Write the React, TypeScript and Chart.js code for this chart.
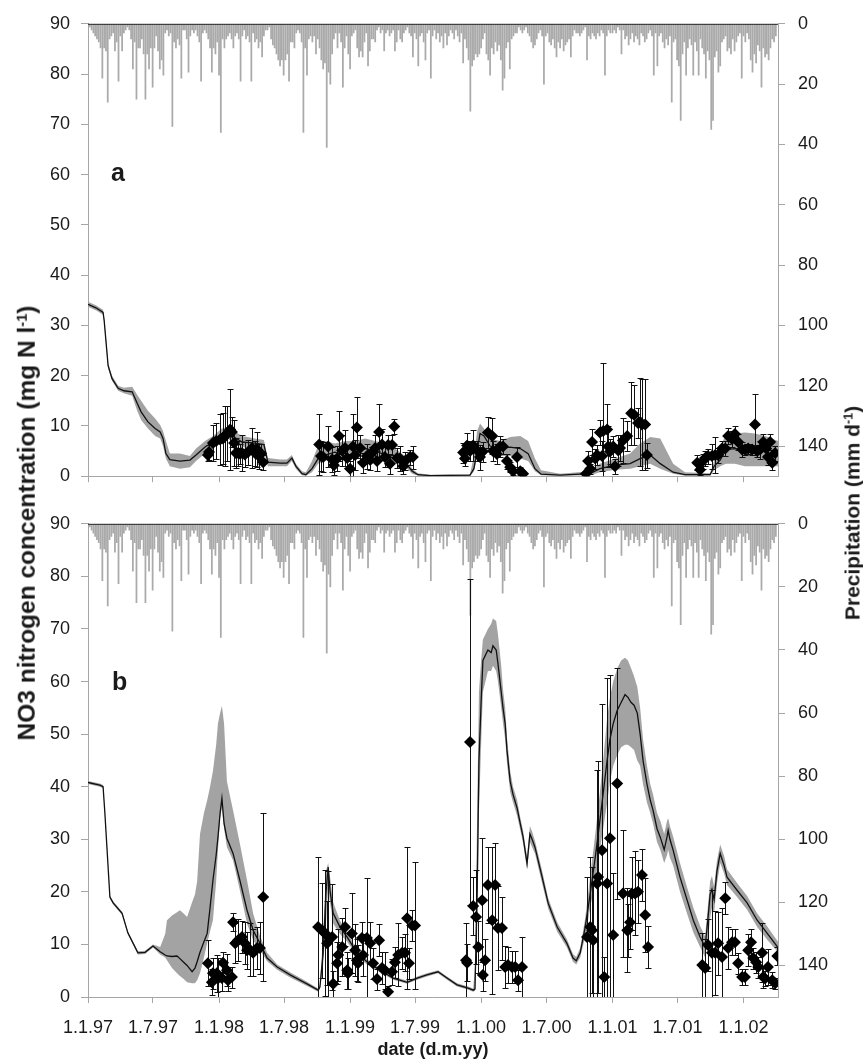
import React, { useEffect, useRef } from 'react';
import { Chart, registerables } from 'chart.js';

Chart.register(...registerables);

const FONT = '"Liberation Sans", Arial, Helvetica, sans-serif';
const AXIS_GRAY = '#a6a6a6';
const TEXT = '#1a1a1a';

// ---------- x axis (days since 1 Jan 1997) ----------
const tickLabels = ['1.1.97', '1.7.97', '1.1.98', '1.7.98', '1.1.99', '1.7.99', '1.1.00', '1.7.00', '1.1.01', '1.7.01', '1.1.02'];
const tickDays = [0, 181, 365, 546, 730, 911, 1095, 1277, 1461, 1642, 1826];
const xMaxDay = 1922;

// ---------- right axis ticks ----------
const precipTicks = [0, 20, 40, 60, 80, 100, 120, 140];

// ---------- precipitation (mm/d), 5-day values from 1 Jan of each year ----------
const precipStep = 5;
const precipYearStart = [0, 365, 730, 1095, 1461, 1826];
const precip1997 = [1, 1, 2, 3, 4, 5, 6, 8, 18, 8, 9, 26, 5, 4, 3, 9, 6, 19, 4, 9, 3, 2, 1, 2, 5, 15, 6, 25, 8, 8, 5, 10, 25, 10, 15, 8, 21, 8, 4, 9, 15, 12, 17, 3, 2, 4, 3, 34, 6, 8, 5, 7, 18, 2, 2, 5, 16, 4, 2, 3, 2, 4, 6, 19, 3, 2, 3, 5, 8, 16, 8, 10, 6];
const precip1998 = [17, 36, 5, 8, 5, 4, 3, 5, 8, 4, 3, 5, 19, 4, 2, 5, 4, 6, 19, 3, 6, 5, 8, 6, 11, 4, 2, 2, 1, 5, 7, 8, 10, 12, 14, 12, 17, 12, 10, 19, 6, 6, 8, 3, 2, 3, 6, 36, 8, 17, 5, 4, 6, 4, 10, 5, 8, 12, 15, 13, 41, 16, 20, 10, 5, 3, 8, 3, 6, 21, 8, 4, 10];
const precip1999 = [15, 4, 3, 2, 8, 11, 9, 11, 6, 3, 14, 9, 5, 5, 6, 2, 1, 3, 2, 9, 3, 2, 4, 3, 2, 9, 6, 2, 5, 6, 3, 2, 1, 3, 4, 11, 3, 5, 14, 4, 3, 6, 12, 3, 2, 18, 4, 2, 5, 3, 6, 4, 8, 3, 7, 4, 2, 3, 5, 2, 4, 6, 3, 13, 5, 8, 12, 29, 14, 12, 10, 11, 10];
const precip2000 = [8, 5, 3, 10, 12, 17, 8, 10, 6, 9, 7, 12, 22, 18, 8, 6, 15, 5, 4, 3, 3, 1, 2, 3, 2, 1, 3, 4, 6, 8, 7, 5, 3, 2, 4, 20, 4, 3, 6, 7, 5, 8, 11, 6, 8, 5, 9, 7, 6, 5, 11, 4, 2, 3, 3, 4, 3, 2, 1, 12, 4, 5, 3, 4, 5, 3, 4, 2, 3, 17, 4, 2, 3];
const precip2001 = [3, 2, 3, 1, 2, 10, 2, 5, 4, 7, 5, 3, 6, 4, 5, 7, 3, 4, 6, 5, 3, 2, 4, 17, 3, 14, 4, 3, 6, 8, 5, 7, 4, 26, 6, 5, 12, 14, 32, 10, 6, 17, 8, 5, 7, 17, 6, 9, 17, 5, 8, 10, 18, 9, 12, 35, 32, 11, 9, 16, 14, 6, 5, 4, 9, 8, 10, 5, 9, 6, 4, 3, 18];
const precip2002 = [4, 6, 3, 5, 12, 16, 10, 13, 7, 9, 21, 8, 11, 10, 12, 8, 5, 6, 4];

// ---------- panel a: model (line + uncertainty band) ----------
const lineADays = [0, 22, 42, 45, 56, 67, 84, 100, 123, 137, 148, 167, 187, 201, 209, 217, 228, 256, 284, 301, 326, 348, 373, 390, 407, 429, 465, 490, 501, 535, 554, 568, 579, 596, 607, 624, 641, 660, 688, 716, 744, 772, 800, 827, 855, 883, 903, 919, 953, 1064, 1075, 1084, 1092, 1103, 1120, 1148, 1176, 1204, 1226, 1245, 1262, 1315, 1399, 1426, 1468, 1510, 1538, 1566, 1594, 1630, 1663, 1733, 1744, 1761, 1777, 1802, 1830, 1858, 1886, 1922];
const lineA = [34.2, 33.5, 32.6, 31, 22, 19.4, 17.5, 17.0, 16.8, 14.5, 12.8, 10.8, 9.5, 8.8, 7.5, 4.5, 3.3, 3.0, 3.2, 4.2, 5.8, 6.8, 8.5, 8.8, 7.8, 6.8, 6.6, 6.3, 2.8, 2.6, 2.6, 3.6, 2.0, 0.5, 0.3, 1.5, 3.5, 4.2, 4.8, 4.0, 4.6, 5.5, 5.0, 4.3, 3.5, 2.8, 1.0, 0.3, 0.1, 0.2, 1.5, 5.0, 8.5, 8.0, 6.0, 5.5, 5.8, 5.5, 4.5, 1.5, 0.4, 0.2, 0.5, 1.5, 2.2, 2.5, 3.5, 4.2, 2.5, 0.8, 0.3, 0.3, 2.0, 3.2, 5.3, 5.5, 5.4, 5.6, 5.3, 5.0];
const bandALow = [33.7, 33.0, 32.1, 30.5, 21.5, 19.0, 17.0, 16.5, 16.0, 13.0, 11.2, 9.5, 8.0, 7.5, 6.0, 3.5, 2.0, 1.5, 1.8, 3.0, 4.5, 5.5, 7.0, 7.5, 6.5, 5.8, 5.5, 5.0, 2.0, 2.0, 2.0, 3.0, 1.5, 0.2, 0.1, 0.8, 2.5, 3.0, 3.5, 3.0, 3.5, 4.0, 3.5, 3.0, 2.5, 2.0, 0.5, 0.1, 0.0, 0.0, 1.0, 4.0, 6.0, 6.0, 4.5, 4.0, 4.0, 3.5, 3.0, 1.0, 0.2, 0.1, 0.2, 0.8, 1.3, 1.5, 2.0, 2.5, 1.5, 0.5, 0.1, 0.1, 1.2, 2.0, 2.5, 2.5, 2.0, 2.0, 2.0, 2.0];
const bandAHigh = [34.7, 34.0, 33.1, 31.5, 22.5, 20.0, 18.0, 17.6, 17.8, 16.2, 15.0, 13.0, 11.5, 10.2, 9.0, 7.0, 4.5, 4.5, 4.0, 5.5, 7.0, 8.0, 9.5, 9.8, 9.0, 8.0, 7.5, 7.2, 3.6, 3.3, 3.3, 4.2, 2.5, 1.0, 0.8, 3.0, 6.0, 7.0, 6.5, 7.0, 7.0, 7.5, 7.0, 6.5, 5.5, 4.0, 1.5, 0.6, 0.3, 0.4, 4.0, 9.0, 10.5, 9.5, 7.5, 7.0, 7.8, 8.0, 7.0, 3.5, 1.2, 0.5, 1.0, 2.5, 3.5, 4.5, 6.5, 7.8, 7.5, 2.5, 0.8, 0.6, 3.0, 5.5, 8.5, 8.5, 8.7, 8.5, 8.0, 7.0];

// ---------- panel a: observations ----------
const obsADays = [334, 337, 348, 357, 368, 376, 382, 387, 396, 401, 407, 412, 418, 423, 429, 437, 446, 457, 465, 471, 476, 482, 488,
  644, 649, 655, 669, 680, 685, 694, 699, 708, 716, 722, 730, 738, 744, 749, 758, 766, 777, 786, 791, 800, 805, 811, 819, 827, 836, 841, 847, 853, 861, 869, 878, 883, 897, 905,
  1045, 1050, 1056, 1064, 1073, 1084, 1092, 1100, 1114, 1126, 1128, 1139, 1148, 1156, 1167, 1176, 1184, 1195, 1204, 1212,
  1387, 1393, 1399, 1404, 1413, 1418, 1426, 1432, 1435, 1446, 1449, 1454, 1463, 1468, 1477, 1482, 1490, 1502, 1513, 1521, 1532, 1538, 1543, 1552, 1557,
  1697, 1705, 1713, 1719, 1727, 1738, 1747, 1755, 1766, 1775, 1783, 1794, 1802, 1811, 1822, 1830, 1839, 1850, 1858, 1864, 1872, 1881, 1889, 1894, 1900, 1906, 1914];
const obsA = [4.2, 4.8, 6.6, 7.0, 7.3, 7.5, 8.0, 8.5, 9.3, 8.8, 6.6, 4.6, 4.6, 4.5, 4.6, 4.3, 4.8, 5.6, 4.6, 5.3, 4.0, 4.5, 2.8,
  6.3, 4.0, 3.8, 5.9, 3.3, 2.2, 3.5, 8.0, 5.1, 5.6, 3.6, 1.5, 5.9, 4.2, 9.7, 5.6, 2.7, 4.0, 3.2, 4.6, 5.6, 3.0, 8.8, 6.3, 3.8, 6.2, 2.5, 6.2, 9.9, 3.6, 3.5, 2.0, 3.0, 3.8, 3.8,
  4.7, 3.5, 6.1, 5.0, 6.1, 5.1, 3.8, 4.9, 8.7, 8.0, 5.0, 4.4, 5.9, 5.9, 3.0, 1.8, 1.0, 3.8, 1.0, 0.5,
  0.5, 3.0, 1.5, 6.8, 3.5, 4.2, 8.7, 4.0, 9.0, 9.3, 5.9, 4.9, 5.9, 2.0, 5.1, 5.6, 7.1, 8.0, 12.5, 12.2, 10.6, 10.8, 10.3, 10.3, 4.2,
  2.7, 1.3, 3.0, 3.6, 4.0, 4.0, 4.2, 4.2, 5.5, 5.5, 8.0, 7.4, 8.4, 6.8, 5.3, 5.3, 5.5, 5.3, 10.3, 5.0, 5.3, 6.8, 5.5, 3.8, 6.8, 2.7, 4.6];
const obsAErr = [1.2, 1.5, 3.5, 3.5, 5, 5, 6, 5.5, 8, 3, 4.5, 3, 2.5, 2, 3.5, 2.5, 2.5, 4, 2.5, 3.5, 2.5, 2, 1.5,
  6, 3, 3, 4, 2.5, 2, 2.5, 5, 3, 3.5, 2, 1.5, 6.5, 3, 6, 2.5, 2, 2.5, 2, 1.2, 2.5, 2, 5.5, 3, 2, 2, 2, 2, 1.5, 2, 2.5, 1.5, 1.8, 1.5, 2.3,
  2, 1.5, 2.5, 2, 3, 2, 2.5, 2, 3, 3.5, 2, 2, 2, 1.5, 1.5, 1, 0.8, 2, 0.8, 0.5,
  0.5, 2, 1, 2.5, 2, 2, 2.5, 3, 13.5, 5, 4, 2.5, 2, 1.5, 3, 2.5, 4.5, 3, 6.3, 6, 3, 8.8, 9, 9.1, 2.5,
  1.5, 1, 1.5, 1.5, 1.5, 2.5, 3.5, 1.5, 1.5, 1.5, 1.5, 1.5, 1.5, 1.5, 1.5, 1, 1, 1, 6, 1.2, 1.8, 1.5, 1.2, 1.5, 1.5, 1.5, 1.5];

// ---------- panel b: model (line + uncertainty band) ----------
const lineBDays = [0, 33, 42, 47, 61, 70, 95, 111, 139, 159, 181, 201, 215, 220, 234, 248, 256, 265, 276, 290, 298, 304, 312, 323, 332, 340, 348, 357, 362, 368, 373, 379, 387, 404, 423, 443, 460, 479, 499, 527, 563, 610, 641, 646, 655, 663, 669, 674, 683, 702, 722, 749, 777, 813, 850, 889, 917, 944, 975, 1000, 1028, 1059, 1073, 1078, 1084, 1089, 1095, 1100, 1114, 1123, 1128, 1137, 1142, 1151, 1156, 1162, 1167, 1176, 1184, 1195, 1204, 1212, 1223, 1231, 1237, 1245, 1265, 1282, 1307, 1334, 1351, 1360, 1371, 1385, 1399, 1413, 1426, 1435, 1446, 1454, 1463, 1474, 1485, 1496, 1504, 1513, 1521, 1530, 1538, 1546, 1557, 1566, 1574, 1585, 1594, 1605, 1613, 1616, 1621, 1630, 1649, 1669, 1686, 1705, 1719, 1727, 1733, 1738, 1744, 1752, 1761, 1772, 1780, 1808, 1836, 1864, 1892, 1922];
const lineB = [40.8, 40.3, 40, 35, 19, 17.9, 15.9, 12.2, 8.4, 8.5, 9.7, 8.6, 8.0, 7.8, 7.7, 7.8, 7.3, 6.7, 6.0, 4.8, 5.5, 6.7, 8.5, 10.5, 12.1, 17, 22.2, 27, 30.4, 35, 37.8, 33, 30.2, 27.3, 22.2, 16.5, 12.7, 10.2, 7.4, 5.7, 4.2, 2.5, 1.3, 1.9, 8.4, 20, 24.7, 20.3, 15.9, 13.3, 11.4, 8.4, 6.7, 5.1, 3.6, 2.8, 3.6, 4.2, 4.8, 3.6, 2.3, 1.7, 1.3, 1.5, 20, 45, 56, 64, 66, 65.5, 66.8, 66, 63.4, 58, 55, 52, 47, 41, 38.5, 36, 33, 30.4, 25.4, 31, 30, 28.5, 22.8, 17.8, 13.3, 10.2, 7.4, 6.9, 8.4, 13.3, 19.7, 26.6, 33.6, 38.7, 45, 49, 52, 54.5, 56, 57.5, 57, 56, 55.5, 54, 50, 45, 40.5, 37.5, 35.5, 32, 30.4, 28, 30.5, 31.7, 30, 27.9, 22.8, 18.4, 14.6, 11.4, 9.5, 15, 19.5, 20.5, 18.5, 24, 27.3, 25, 22.8, 20.3, 17.9, 14.6, 12.1, 9.4];
const bandBLow = [40.5, 40, 39.7, 34.7, 18.7, 17.6, 15.6, 11.9, 8.1, 8.2, 9.4, 8.1, 7.5, 7, 5.5, 4.5, 4, 3.5, 2.8, 2.6, 2.6, 3.2, 4.5, 7.5, 10.2, 12.5, 14.6, 22, 28, 34, 36, 32, 28.5, 26, 20.3, 14, 10.8, 8.9, 6.8, 5.2, 3.7, 2.1, 1.0, 1.5, 6, 14, 21, 18, 14, 12, 10.5, 7.8, 6.2, 4.7, 3.3, 2.5, 3.3, 3.9, 4.5, 3.3, 2.0, 1.4, 1.0, 1.2, 12, 35, 48, 58, 62, 62, 63, 62, 60, 55, 52, 49, 44.5, 39, 37, 34.5, 31.8, 29.2, 24.2, 29.5, 28.5, 27.3, 21.6, 16.8, 12.4, 9.4, 6.7, 6.2, 7.5, 11.5, 17, 22, 28, 32, 37, 41, 44, 46, 47.5, 48, 48, 47.5, 47, 45, 44, 40.5, 37, 35, 33, 29.5, 28, 25.5, 27, 28, 26.5, 25, 20, 15.8, 12.3, 9.5, 7.5, 11, 15, 17, 16, 21.5, 25.5, 23.5, 21.3, 19, 16.6, 13.3, 10.9, 8.5];
const bandBHigh = [41.1, 40.6, 40.3, 35.3, 19.3, 18.2, 16.2, 12.5, 8.7, 8.8, 10, 9.5, 12, 14.6, 15.5, 16.1, 16.5, 16, 15.2, 18, 19.5, 22, 31, 35, 37.4, 40, 43, 48, 52, 54, 55.4, 52, 41, 35.5, 29.2, 22.2, 15.9, 11.6, 8.4, 6.2, 4.7, 2.9, 1.6, 2.3, 12, 24, 25.5, 23, 18, 14.5, 12.3, 9, 7.2, 5.5, 3.9, 3.1, 3.9, 4.5, 5.1, 3.9, 2.6, 2.0, 1.6, 6, 35, 58, 64, 68, 70, 71, 72, 71.5, 69, 63, 58.5, 55, 49.5, 43, 40, 37.5, 34.2, 31.6, 26.6, 32.5, 31.5, 29.7, 24, 18.8, 14.2, 11, 8.2, 7.6, 9.3, 15, 23, 31, 39, 45, 53, 57, 60, 62.5, 64, 64.5, 64, 62.5, 61, 59, 55, 49, 44, 40.5, 38.5, 35, 33.5, 31, 33.5, 34, 32.5, 30.5, 25.5, 20.8, 17, 13.5, 11.5, 17.5, 22, 23, 21, 26, 29, 26.8, 24.3, 21.7, 19.2, 15.9, 13.4, 10.5];

// ---------- panel b: observations ----------
const obsBDays = [334, 345, 348, 359, 362, 373, 376, 387, 390, 401, 404, 410, 418, 429, 437, 443, 451, 460, 471, 479, 488,
  641, 652, 660, 666, 669, 680, 683, 694, 697, 708, 716, 722, 724, 735, 744, 749, 752, 763, 766, 777, 786, 794, 805, 811, 819, 827, 836, 847, 855, 864, 875, 883, 889, 894, 903, 911,
  1053, 1056, 1064, 1073, 1081, 1087, 1098, 1100, 1106, 1114, 1126, 1134, 1142, 1153, 1162, 1170, 1181, 1190, 1198, 1209,
  1390, 1399, 1404, 1407, 1418, 1421, 1432, 1438, 1446, 1454, 1463, 1474, 1490, 1502, 1504, 1510, 1515, 1524, 1532, 1543, 1552, 1560,
  1711, 1719, 1727, 1738, 1747, 1755, 1766, 1775, 1783, 1794, 1802, 1811, 1822, 1830, 1839, 1847, 1853, 1861, 1867, 1878, 1881, 1886, 1894, 1906, 1914, 1920];
const obsB = [6.4, 2.8, 4.5, 4.5, 3.5, 3.6, 6.5, 5.1, 3.2, 3.8, 14.2, 10.2, 10.8, 11.4, 10.2, 8.9, 9.0, 8.4, 9.3, 9.3, 19.0,
  13.3, 12.7, 12.1, 10.2, 11.5, 11.4, 2.5, 6.4, 8.0, 9.5, 13.3, 5.1, 4.5, 12.1, 8.9, 7.0, 6.4, 11.2, 8.0, 11.2, 10.2, 6.4, 3.4, 10.8, 5.5, 5.1, 1.0, 4.8, 6.6, 8.0, 8.4, 8.4, 15.0, 6.4, 13.6, 13.6,
  7.0, 6.5, 48.5, 17.3, 15.2, 9.5, 18.4, 4.2, 7.0, 21.3, 14.6, 21.3, 13.1, 13.1, 5.7, 6.1, 5.7, 5.7, 3.2, 5.7,
  11.4, 13.3, 12.7, 10.8, 21.6, 22.8, 27.9, 3.8, 21.6, 30.2, 11.8, 40.6, 19.7, 12.7, 12.7, 14.2, 19.7, 19.7, 20.0, 23.2, 15.6, 9.5,
  6.1, 5.5, 9.9, 8.4, 8.4, 10.2, 7.6, 18.8, 9.3, 10.4, 10.4, 6.4, 3.8, 3.8, 8.9, 10.4, 7.4, 6.6, 5.7, 8.4, 3.8, 3.5, 5.7, 3.2, 2.6, 7.8];
const obsBErr = [4.4, 2.5, 3, 3.5, 4, 2.5, 2, 3, 2, 2, 1.7, 3.8, 4, 3, 4, 3.5, 5, 4.5, 4, 5, 16,
  13.3, 9, 12, 8, 12.5, 10, 2.5, 4, 5, 5.5, 3.6, 3.5, 3, 7.6, 5, 4, 3.5, 3, 4, 11.4, 4, 3, 2, 3, 3, 3.5, 1, 2.5, 3, 6, 3, 3.5, 13.5, 3, 3, 12,
  7, 3.5, 31, 5.5, 9, 5, 11.8, 3, 4, 7.2, 14, 8, 8, 6, 4, 3.5, 3, 3, 2, 5.7,
  11.4, 13.3, 12, 10.8, 21.6, 22, 27.9, 3.8, 39, 31, 11.8, 22, 12, 8, 5, 5, 7, 8, 6, 5, 7, 4,
  6.1, 5.5, 5, 11.9, 8, 6, 9.4, 3, 4, 2.5, 2.5, 2, 1.5, 1.5, 3, 2.5, 2, 2, 2, 5.6, 2, 1.5, 3.5, 1.5, 1, 1.7];

// ---------- helpers ----------
type Pt = { x: number; y: number };
const zip = (xs: number[], ys: number[]): Pt[] => xs.map((x, i) => ({ x, y: ys[i] }));

function precipPoints(): Pt[] {
  const years = [precip1997, precip1998, precip1999, precip2000, precip2001, precip2002];
  const pts: Pt[] = [];
  years.forEach((vals, k) => vals.forEach((v, i) => pts.push({ x: precipYearStart[k] + i * precipStep, y: v })));
  return pts;
}

const errorBarPlugin = {
  id: 'errorBars',
  beforeDatasetDraw(chart: any, args: any) {
    const ds = chart.data.datasets[args.index];
    if (!ds.errors) return;
    const { ctx, chartArea } = chart;
    const xs = chart.scales.x;
    const ys = chart.scales.y;
    ctx.save();
    ctx.beginPath();
    ctx.rect(chartArea.left, chartArea.top, chartArea.right - chartArea.left, chartArea.bottom - chartArea.top);
    ctx.clip();
    ctx.strokeStyle = '#111';
    ctx.lineWidth = 1;
    ds.data.forEach((p: Pt, i: number) => {
      const e = ds.errors[i];
      const px = Math.round(xs.getPixelForValue(p.x)) + 0.5;
      const top = Math.round(ys.getPixelForValue(p.y + e)) + 0.5;
      const bot = Math.round(ys.getPixelForValue(p.y - e)) + 0.5;
      ctx.beginPath();
      ctx.moveTo(px, top);
      ctx.lineTo(px, bot);
      ctx.moveTo(px - 3, top);
      ctx.lineTo(px + 3, top);
      ctx.moveTo(px - 3, bot);
      ctx.lineTo(px + 3, bot);
      ctx.stroke();
    });
    ctx.restore();
  },
};

const topRulePlugin = {
  id: 'topRule',
  afterDatasetsDraw(chart: any) {
    const { ctx, chartArea } = chart;
    ctx.save();
    ctx.strokeStyle = '#222';
    ctx.lineWidth = 1;
    ctx.beginPath();
    ctx.moveTo(chartArea.left, chartArea.top + 0.5);
    ctx.lineTo(chartArea.right, chartArea.top + 0.5);
    ctx.stroke();
    ctx.restore();
  },
};

interface PanelData {
  lineDays: number[]; line: number[]; low: number[]; high: number[];
  obsDays: number[]; obs: number[]; err: number[];
}

const panelA: PanelData = { lineDays: lineADays, line: lineA, low: bandALow, high: bandAHigh, obsDays: obsADays, obs: obsA, err: obsAErr };
const panelB: PanelData = { lineDays: lineBDays, line: lineB, low: bandBLow, high: bandBHigh, obsDays: obsBDays, obs: obsB, err: obsBErr };

function makeConfig(p: PanelData, padTop: number, xHeight: number, showX: boolean): any {
  const tickFont = { family: FONT, size: 18 };
  return {
    type: 'line',
    data: {
      datasets: [
        {
          type: 'line', label: 'observed', data: zip(p.obsDays, p.obs), errors: p.err,
          showLine: false, pointStyle: 'rectRot', pointRadius: 6, pointBackgroundColor: '#000',
          pointBorderColor: '#000', pointBorderWidth: 0, yAxisID: 'y', order: 0,
        },
        {
          type: 'line', label: 'model', data: zip(p.lineDays, p.line), borderColor: '#111', borderWidth: 1.3,
          pointRadius: 0, tension: 0, fill: false, yAxisID: 'y', order: 1,
        },
        {
          type: 'line', label: 'upper', data: zip(p.lineDays, p.high), borderColor: 'rgba(0,0,0,0)', borderWidth: 0,
          pointRadius: 0, tension: 0, fill: 3, backgroundColor: '#a3a3a3', yAxisID: 'y', order: 2,
        },
        {
          type: 'line', label: 'lower', data: zip(p.lineDays, p.low), borderColor: 'rgba(0,0,0,0)', borderWidth: 0,
          pointRadius: 0, tension: 0, fill: false, yAxisID: 'y', order: 3,
        },
        {
          type: 'bar', label: 'precipitation', data: precipPoints(), backgroundColor: '#aaaaaa', borderWidth: 0,
          barThickness: 1.1, yAxisID: 'yP', order: 4,
        },
      ],
    },
    options: {
      responsive: false,
      animation: false,
      events: [],
      layout: { padding: { top: padTop, left: 0, right: 0, bottom: 0 } },
      plugins: { legend: { display: false }, tooltip: { enabled: false }, title: { display: false } },
      scales: {
        x: {
          type: 'linear', min: 0, max: xMaxDay, offset: false,
          afterBuildTicks: (s: any) => { s.ticks = tickDays.map((v) => ({ value: v })); },
          afterFit: (s: any) => { s.height = xHeight; },
          ticks: {
            display: showX, autoSkip: false, maxRotation: 0, minRotation: 0, padding: 14, color: TEXT, font: tickFont,
            callback: (v: number) => { const i = tickDays.indexOf(v); return i >= 0 ? tickLabels[i] : ''; },
          },
          grid: { drawOnChartArea: false, drawTicks: true, tickLength: 6, color: AXIS_GRAY, offset: false },
          border: { display: true, color: AXIS_GRAY, width: 1 },
          title: {
            display: showX, text: 'date (d.m.yy)', color: TEXT,
            font: { family: FONT, size: 18, weight: 'bold' }, padding: { top: 0, bottom: 1 },
          },
        },
        y: {
          position: 'left', min: 0, max: 90,
          afterFit: (s: any) => { s.width = 88; },
          ticks: { stepSize: 10, padding: 11, color: TEXT, font: tickFont },
          grid: { drawOnChartArea: false, drawTicks: true, tickLength: 7, color: AXIS_GRAY },
          border: { display: true, color: AXIS_GRAY, width: 1 },
        },
        yP: {
          position: 'right', min: 0, max: 150, reverse: true,
          afterBuildTicks: (s: any) => { s.ticks = precipTicks.map((v) => ({ value: v })); },
          afterFit: (s: any) => { s.width = 85; },
          ticks: { padding: 13, color: TEXT, font: tickFont },
          grid: { drawOnChartArea: false, drawTicks: true, tickLength: 7, color: AXIS_GRAY },
          border: { display: true, color: AXIS_GRAY, width: 1 },
        },
      },
    },
    plugins: [errorBarPlugin, topRulePlugin],
  };
}

const rotated = (cx: number, cy: number, size: number): React.CSSProperties => ({
  position: 'absolute', left: cx, top: cy, transform: 'translate(-50%, -50%) rotate(-90deg)',
  whiteSpace: 'nowrap', fontWeight: 'bold', fontSize: size, color: TEXT, fontFamily: FONT, lineHeight: 1,
});

const supStyle: React.CSSProperties = { fontSize: '0.6em', verticalAlign: '0.55em', lineHeight: 0 };

export default function App() {
  const refA = useRef<HTMLCanvasElement>(null);
  const refB = useRef<HTMLCanvasElement>(null);
  useEffect(() => {
    const a = new Chart(refA.current as HTMLCanvasElement, makeConfig(panelA, 16, 11, false));
    const b = new Chart(refB.current as HTMLCanvasElement, makeConfig(panelB, 23, 65, true));
    return () => { a.destroy(); b.destroy(); };
  }, []);
  return (
    <div style={{ position: 'absolute', left: 0, top: 0, width: 863, height: 1062, background: '#fff', fontFamily: FONT }}>
      <canvas ref={refA} width={863} height={500} style={{ position: 'absolute', left: 0, top: 0, width: 863, height: 500 }} />
      <canvas ref={refB} width={863} height={562} style={{ position: 'absolute', left: 0, top: 500, width: 863, height: 562 }} />
      <div style={rotated(27, 523, 24.5)}>NO3 nitrogen concentration (mg N l<sup style={supStyle}>-1</sup>)</div>
      <div style={rotated(852, 513, 21)}>Precipitation (mm d<sup style={supStyle}>-1</sup>)</div>
      <div style={{ position: 'absolute', left: 111, top: 158, fontWeight: 'bold', fontSize: 25, color: TEXT, fontFamily: FONT }}>a</div>
      <div style={{ position: 'absolute', left: 112, top: 667, fontWeight: 'bold', fontSize: 25, color: TEXT, fontFamily: FONT }}>b</div>
    </div>
  );
}
